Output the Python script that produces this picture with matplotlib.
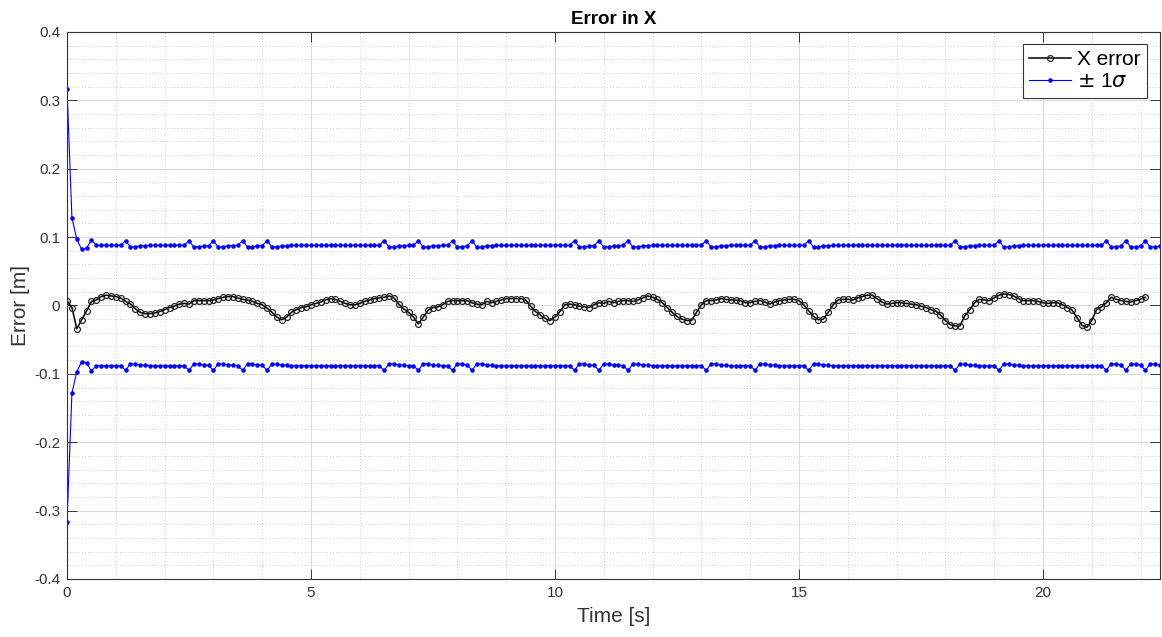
import matplotlib
matplotlib.use("Agg")
import matplotlib.pyplot as plt
from matplotlib.ticker import MultipleLocator, FuncFormatter

# === Data (dt = 0.1 s) ===
dt = 0.1

x_error = [
    0.007, -0.003, -0.034, -0.021, -0.008, 0.006, 0.008, 0.013, 0.015, 0.014,
    0.013, 0.011, 0.006, 0.002, -0.005, -0.010, -0.012, -0.012, -0.011, -0.009,
    -0.006, -0.003, -0.001, 0.002, 0.003, 0.002, 0.007, 0.007, 0.007, 0.007,
    0.008, 0.010, 0.012, 0.013, 0.013, 0.011, 0.009, 0.008, 0.006, 0.003,
    0.001, -0.004, -0.010, -0.017, -0.021, -0.017, -0.010, -0.006, -0.003, -0.002,
    0.001, 0.003, 0.005, 0.008, 0.010, 0.009, 0.006, 0.003, 0.001, 0.001,
    0.003, 0.006, 0.008, 0.010, 0.011, 0.012, 0.014, 0.011, 0.002, -0.005,
    -0.010, -0.017, -0.027, -0.017, -0.007, -0.003, -0.002, 0.001, 0.006, 0.007,
    0.007, 0.007, 0.007, 0.004, 0.002, 0.001, 0.006, 0.004, 0.006, 0.008,
    0.010, 0.010, 0.010, 0.010, 0.008, -0.001, -0.009, -0.014, -0.019, -0.022,
    -0.017, -0.009, 0.001, 0.002, 0.001, -0.001, -0.002, -0.003, 0.001, 0.004,
    0.003, 0.006, 0.004, 0.006, 0.007, 0.007, 0.006, 0.008, 0.011, 0.014,
    0.012, 0.009, 0.004, -0.003, -0.010, -0.016, -0.020, -0.022, -0.022, -0.010,
    0.001, 0.007, 0.007, 0.008, 0.010, 0.009, 0.008, 0.008, 0.007, 0.004,
    0.004, 0.006, 0.007, 0.005, 0.002, 0.005, 0.007, 0.008, 0.009, 0.009,
    0.007, 0.001, -0.008, -0.016, -0.021, -0.020, -0.010, 0.001, 0.008, 0.009,
    0.009, 0.008, 0.011, 0.013, 0.015, 0.015, 0.010, 0.005, 0.002, 0.003,
    0.004, 0.004, 0.003, 0.002, 0.001, -0.001, -0.003, -0.006, -0.008, -0.014,
    -0.022, -0.028, -0.030, -0.030, -0.015, -0.006, 0.004, 0.009, 0.008, 0.007,
    0.011, 0.015, 0.017, 0.016, 0.014, 0.010, 0.007, 0.007, 0.007, 0.006,
    0.004, 0.003, 0.004, 0.004, 0.001, -0.003, -0.007, -0.018, -0.029, -0.032,
    -0.022, -0.006, -0.002, 0.004, 0.012, 0.009, 0.007, 0.006, 0.005, 0.007,
    0.009, 0.012,
]

sigma = [
    0.316, 0.128, 0.097, 0.082, 0.084, 0.096, 0.088, 0.088, 0.088, 0.088,
    0.088, 0.088, 0.095, 0.085, 0.086, 0.087, 0.0875, 0.088, 0.088, 0.088,
    0.088, 0.088, 0.088, 0.088, 0.088, 0.095, 0.085, 0.086, 0.087, 0.0875,
    0.095, 0.085, 0.086, 0.087, 0.0875, 0.088, 0.095, 0.085, 0.086, 0.087,
    0.0875, 0.095, 0.085, 0.086, 0.087, 0.0875, 0.088, 0.088, 0.088, 0.088,
    0.088, 0.088, 0.088, 0.088, 0.088, 0.088, 0.088, 0.088, 0.088, 0.088,
    0.088, 0.088, 0.088, 0.088, 0.088, 0.095, 0.085, 0.086, 0.087, 0.0875,
    0.088, 0.088, 0.095, 0.085, 0.086, 0.087, 0.0875, 0.088, 0.088, 0.095,
    0.085, 0.086, 0.087, 0.095, 0.085, 0.086, 0.087, 0.0875, 0.088, 0.088,
    0.088, 0.088, 0.088, 0.088, 0.088, 0.088, 0.088, 0.088, 0.088, 0.088,
    0.088, 0.088, 0.088, 0.088, 0.095, 0.085, 0.086, 0.087, 0.0875, 0.095,
    0.085, 0.086, 0.087, 0.0875, 0.088, 0.095, 0.085, 0.086, 0.087, 0.0875,
    0.088, 0.088, 0.088, 0.088, 0.088, 0.088, 0.088, 0.088, 0.088, 0.088,
    0.088, 0.095, 0.085, 0.086, 0.087, 0.0875, 0.088, 0.088, 0.088, 0.088,
    0.088, 0.095, 0.085, 0.086, 0.087, 0.0875, 0.088, 0.088, 0.088, 0.088,
    0.088, 0.088, 0.095, 0.085, 0.086, 0.087, 0.0875, 0.088, 0.088, 0.088,
    0.088, 0.088, 0.088, 0.088, 0.088, 0.088, 0.088, 0.088, 0.088, 0.088,
    0.088, 0.088, 0.088, 0.088, 0.088, 0.088, 0.088, 0.088, 0.088, 0.088,
    0.088, 0.088, 0.095, 0.085, 0.086, 0.087, 0.0875, 0.088, 0.088, 0.088,
    0.088, 0.095, 0.085, 0.086, 0.087, 0.0875, 0.088, 0.088, 0.088, 0.088,
    0.088, 0.088, 0.088, 0.088, 0.088, 0.088, 0.088, 0.088, 0.088, 0.088,
    0.088, 0.088, 0.088, 0.095, 0.085, 0.086, 0.087, 0.095, 0.085, 0.086,
    0.087, 0.095, 0.085, 0.086, 0.087,
]

t_err = [i * dt for i in range(len(x_error))]
t_sig = [i * dt for i in range(len(sigma))]
neg_sigma = [-s for s in sigma]

TXT = "#333333"
plt.rcParams["font.family"] = ["Liberation Sans", "DejaVu Sans"]

fig = plt.figure(figsize=(11.62, 6.37), dpi=100)
ax = fig.add_axes([0.0577, 0.0911, 0.9406, 0.8587])

ax.plot(t_err, x_error, color="black", lw=1.1, marker="o", ms=4.2,
        mfc="none", mec="#222222", mew=0.9, label="X error")
ax.plot(t_sig, sigma, color="#0000ff", lw=0.8, marker=".", ms=4.5,
        label=r"$\pm$ 1$\sigma$")
ax.plot(t_sig, neg_sigma, color="#0000ff", lw=0.8, marker=".", ms=4.5)

ax.set_xlim(0, 22.4)
ax.set_ylim(-0.4, 0.4)
ax.xaxis.set_major_locator(MultipleLocator(5))
ax.xaxis.set_minor_locator(MultipleLocator(1))
ax.yaxis.set_major_locator(MultipleLocator(0.1))
ax.yaxis.set_minor_locator(MultipleLocator(0.02))
ax.yaxis.set_major_formatter(FuncFormatter(lambda v, p: "%g" % round(v, 3)))
ax.xaxis.set_major_formatter(FuncFormatter(lambda v, p: "%g" % v))

ax.grid(True, which="major", color="#dcdcdc", lw=0.8, ls="-")
ax.grid(True, which="minor", color="#cfcfcf", lw=0.7, ls=(0, (1, 2)))
ax.set_axisbelow(True)

ax.tick_params(which="major", direction="in", length=7.5, width=0.7,
               top=True, right=True, colors=TXT, labelsize=11, pad=5)
ax.tick_params(which="minor", length=0, top=True, right=True)
for s in ax.spines.values():
    s.set_color(TXT)
    s.set_linewidth(0.8)

ax.set_title("Error in X", fontsize=13.5, fontweight="bold", color="black", pad=6)
ax.set_xlabel("Time [s]", fontsize=15, color=TXT, labelpad=5)
ax.set_ylabel("Error [m]", fontsize=15, color=TXT, labelpad=3)

leg = ax.legend(loc="upper right", bbox_to_anchor=(0.988, 0.978), borderaxespad=0,
                fontsize=15, fancybox=False, framealpha=1, edgecolor=TXT,
                handlelength=2.0, handletextpad=0.3, borderpad=0.3,
                labelspacing=0.15, numpoints=1)
leg.get_frame().set_linewidth(0.8)

fig.savefig("out.png", dpi=100)
